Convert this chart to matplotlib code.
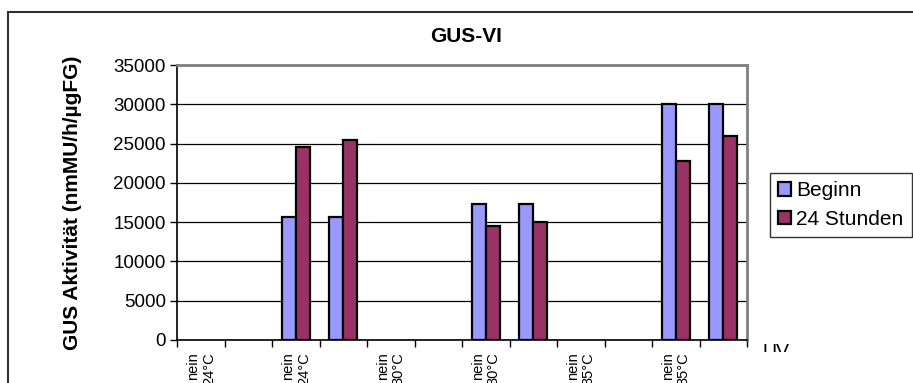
import numpy as np
import matplotlib
matplotlib.use("Agg")
import matplotlib.pyplot as plt
from matplotlib.patches import Rectangle
from matplotlib.transforms import Bbox, TransformedBbox

plt.rcParams["font.family"] = ["Liberation Sans", "DejaVu Sans"]

# GUS activity per sample, at start and after 24 h (nan = not measured)
nan = np.nan
beginn = [nan, nan, 15600, 15600, nan, nan, 17300, 17300, nan, nan, 30000, 30000]
stunden_24 = [nan, nan, 24600, 25500, nan, nan, 14500, 15000, nan, nan, 22800, 26000]
# only every second category gets a label
tick_labels = ["nein\n24°C", "nein\n24°C", "nein\n30°C", "nein\n30°C", "nein\n35°C", "nein\n35°C"]
series_names = ["Beginn", "24 Stunden"]
yticks = [0, 5000, 10000, 15000, 20000, 25000, 30000, 35000]

W, H = 913, 383
fig = plt.figure(figsize=(W / 100, H / 100), dpi=100)

# chart frame
fig.patches.append(Rectangle((8 / W, -0.2), 1.2, 1.2 - 12 / H,
                             transform=fig.transFigure, fill=False,
                             edgecolor="#303030", linewidth=1.5))

ax = fig.add_axes([177 / W, 1 - 340 / H, (747 - 177) / W, (340 - 65) / H])

x = np.arange(len(beginn))
w = 0.295
ax.bar(x - w / 2, beginn, w, color="#9999FF", edgecolor="black", linewidth=1.6,
       label=series_names[0], zorder=3)
ax.bar(x + w / 2, stunden_24, w, color="#993366", edgecolor="black", linewidth=1.6,
       label=series_names[1], zorder=3)

ax.set_xlim(-0.5, len(beginn) - 0.5)
ax.set_ylim(0, 35000)
ax.set_yticks(yticks)
ax.tick_params(axis="y", labelsize=13.5, length=5, width=1, direction="out", pad=3)
ax.yaxis.grid(True, color="black", linewidth=0.9)
ax.set_axisbelow(True)

ax.set_xticks(x[::2])
ax.set_xticklabels(tick_labels, rotation=90, fontsize=10.5, va="top", ha="center",
                   multialignment="right")
ax.set_xticks(np.arange(-0.5, len(beginn)), minor=True)
ax.tick_params(axis="x", which="major", length=0, pad=9)
ax.tick_params(axis="x", which="minor", length=5, width=1, direction="out")

for side in ("top", "right"):
    ax.spines[side].set_color("#808080")
    ax.spines[side].set_linewidth(2)
for side in ("left", "bottom"):
    ax.spines[side].set_color("black")
    ax.spines[side].set_linewidth(1.2)

ax.set_ylabel("GUS Aktivität (nmMU/h/µgFG)", fontsize=15, fontweight="bold")
ax.yaxis.set_label_coords((82 - 177) / 570, 0.5)

fig.text(466 / W, 1 - 37 / H, "GUS-VI", fontsize=15, fontweight="bold",
         ha="center", va="center")

# axis title, partly hidden below
uv = fig.text(762 / W, 1 - 344 / H, "UV", fontsize=14, ha="left", va="top", clip_on=True)
uv.set_clip_box(TransformedBbox(Bbox([[740 / W, 1 - 352 / H], [820 / W, 1 - 330 / H]]),
                                fig.transFigure))

leg = ax.legend(loc="upper left", bbox_to_anchor=(770 / W, 1 - 173 / H),
                bbox_transform=fig.transFigure, fontsize=15, frameon=True,
                fancybox=False, edgecolor="black", handlelength=0.6,
                handleheight=0.6, handletextpad=0.25, labelspacing=0.45,
                borderpad=0.4, borderaxespad=0)
leg.get_frame().set_linewidth(1)

fig.savefig("out.png", dpi=100)
